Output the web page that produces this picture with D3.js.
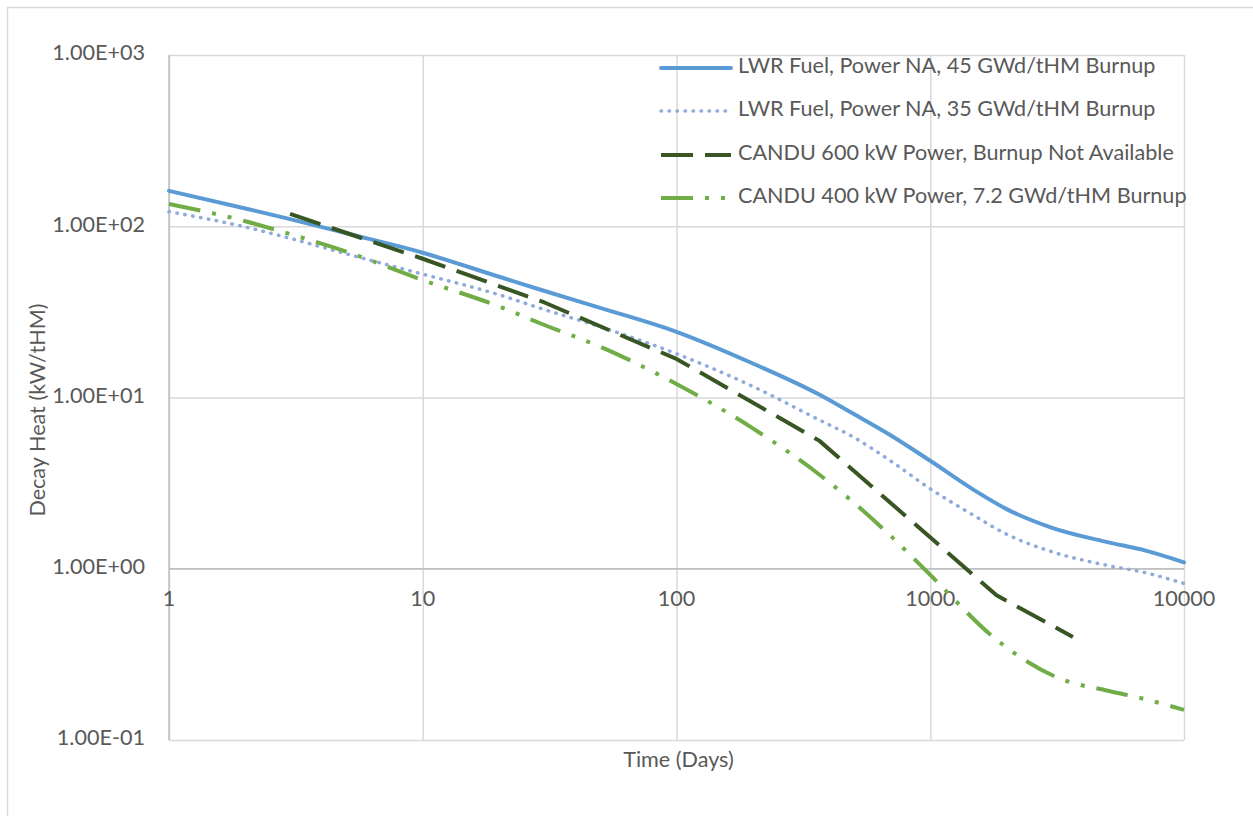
<!DOCTYPE html>
<html>
<head>
<meta charset="utf-8">
<script src="https://cdn.jsdelivr.net/npm/d3@7"></script>
<style>
  html, body { margin: 0; padding: 0; background: #fff; }
  svg { display: block; }
  text { font-family: Lato, "Open Sans", sans-serif; fill: #595959; }
</style>
</head>
<body>
<svg id="chart" width="1253" height="816"></svg>
<script>
// ---- data ----
const xTicks = [1, 10, 100, 1000, 10000];
const yTicks = [0.1, 1, 10, 100, 1000];
const yTickLabels = ["1.00E-01", "1.00E+00", "1.00E+01", "1.00E+02", "1.00E+03"];

const seriesNames = [
  "LWR Fuel, Power NA, 45 GWd/tHM Burnup",
  "LWR Fuel, Power NA, 35 GWd/tHM Burnup",
  "CANDU 600 kW Power, Burnup Not Available",
  "CANDU 400 kW Power, 7.2 GWd/tHM Burnup"
];

const lwr45Days = [1, 2, 3, 5, 10, 20, 30, 50, 100, 200, 365, 500, 700, 1000, 1500, 2000, 3000, 5000, 7000, 10000];
const lwr45Vals = [161, 127, 110, 91, 70, 50.7, 42, 33.4, 24.2, 15.8, 10.4, 8.0, 6.0, 4.27, 2.86, 2.23, 1.74, 1.43, 1.28, 1.09];

const lwr35Days = [1, 2, 3, 5, 10, 20, 30, 50, 100, 200, 365, 500, 700, 1000, 1500, 2000, 3000, 5000, 7000, 10000];
const lwr35Vals = [121.6, 99, 85, 69, 52.5, 39.8, 32.7, 25.9, 18.0, 11.6, 7.4, 5.85, 4.25, 2.93, 2.03, 1.59, 1.26, 1.045, 0.95, 0.82];

const candu600Days = [3, 10, 30, 100, 365, 1825, 3650];
const candu600Vals = [118, 64.6, 36.0, 16.8, 5.6, 0.70, 0.40];

const candu400Days = [1, 2, 3, 5, 10, 20, 30, 50, 100, 200, 365, 500, 700, 1000, 1825, 2300, 3250, 5000, 6400, 10000];
const candu400Vals = [135, 107, 90, 71, 48.5, 34, 26.6, 19.8, 12.0, 6.6, 3.55, 2.43, 1.55, 0.92, 0.385, 0.30, 0.228, 0.194, 0.179, 0.15];

// ---- layout ----
const svg = d3.select("#chart");
const plot = { left: 169, right: 1184, top: 55, bottom: 740 };

const x = d3.scaleLog().domain([1, 10000]).range([plot.left, plot.right]);
const y = d3.scaleLog().domain([0.1, 1000]).range([plot.bottom, plot.top]);

// outer chart border (only left/top visible in frame)
svg.append("rect")
  .attr("x", 7.5).attr("y", 7.5)
  .attr("width", 1400).attr("height", 1000)
  .attr("fill", "none").attr("stroke", "#d9d9d9").attr("stroke-width", 1.5);

// gridlines via axes
const gridColor = "#d9d9d9";
const gx = svg.append("g")
  .attr("transform", `translate(0,${plot.bottom})`)
  .call(d3.axisBottom(x).tickValues(xTicks).tickSize(-(plot.bottom - plot.top)).tickFormat(""));
gx.select(".domain").remove();
gx.selectAll("line").attr("stroke", gridColor).attr("stroke-width", 1.5);

const gy = svg.append("g")
  .attr("transform", `translate(${plot.left},0)`)
  .call(d3.axisLeft(y).tickValues(yTicks).tickSize(-(plot.right - plot.left)).tickFormat(""));
gy.select(".domain").remove();
gy.selectAll("line").attr("stroke", gridColor).attr("stroke-width", 1.5);

// axis lines: x axis crosses at y = 1
svg.append("line")
  .attr("x1", plot.left).attr("x2", plot.right)
  .attr("y1", y(1)).attr("y2", y(1))
  .attr("stroke", "#bfbfbf").attr("stroke-width", 1.5);
svg.append("line")
  .attr("x1", plot.left).attr("x2", plot.left)
  .attr("y1", plot.top).attr("y2", plot.bottom)
  .attr("stroke", "#bfbfbf").attr("stroke-width", 1.5);

// tick labels
const fs = 21.6;
svg.append("g").selectAll("text").data(xTicks).join("text")
  .attr("x", d => x(d)).attr("y", y(1) + 32)
  .attr("text-anchor", "middle").attr("dominant-baseline", "middle")
  .style("font-size", fs + "px")
  .text(d => String(d));

svg.append("g").selectAll("text").data(yTicks).join("text")
  .attr("x", 145).attr("y", d => y(d))
  .attr("text-anchor", "end").attr("dominant-baseline", "middle")
  .style("font-size", fs + "px")
  .text((d, i) => yTickLabels[i]);

// axis titles
svg.append("text")
  .attr("x", (plot.left + plot.right) / 2 + 2).attr("y", 762)
  .attr("text-anchor", "middle").attr("dominant-baseline", "middle")
  .style("font-size", fs + "px")
  .text("Time (Days)");

svg.append("text")
  .attr("transform", `translate(40,${410}) rotate(-90)`)
  .attr("text-anchor", "middle").attr("dominant-baseline", "middle")
  .style("font-size", fs + "px")
  .text("Decay Heat (kW/tHM)");

// series
const styles = [
  { color: "#5b9bd5", width: 4, dash: null, cap: "round", curve: d3.curveMonotoneX },
  { color: "#8faadc", width: 3.5, dash: "0.5 7.5", cap: "round", curve: d3.curveMonotoneX },
  { color: "#375623", width: 4, dash: "32 12", cap: "butt", curve: d3.curveLinear },
  { color: "#70ad47", width: 4, dash: "32 12 4 12 4 12", cap: "butt", curve: d3.curveMonotoneX }
];
const series = [
  lwr45Days.map((d, i) => [d, lwr45Vals[i]]),
  lwr35Days.map((d, i) => [d, lwr35Vals[i]]),
  candu600Days.map((d, i) => [d, candu600Vals[i]]),
  candu400Days.map((d, i) => [d, candu400Vals[i]])
];

[0, 1, 2, 3].forEach(i => {
  const s = styles[i];
  const line = d3.line().x(d => x(d[0])).y(d => y(d[1])).curve(s.curve);
  svg.append("path")
    .attr("d", line(series[i]))
    .attr("fill", "none")
    .attr("stroke", s.color)
    .attr("stroke-width", s.width)
    .attr("stroke-linecap", s.cap)
    .attr("stroke-linejoin", "round")
    .attr("stroke-dasharray", s.dash);
});

// legend
const legendY = [68, 111, 155, 198];
const lg = svg.append("g");
seriesNames.forEach((name, i) => {
  const s = styles[i];
  lg.append("line")
    .attr("x1", 661).attr("x2", 731)
    .attr("y1", legendY[i]).attr("y2", legendY[i])
    .attr("stroke", s.color)
    .attr("stroke-width", s.width)
    .attr("stroke-linecap", s.cap)
    .attr("stroke-dasharray", s.dash);
  lg.append("text")
    .attr("x", 738).attr("y", legendY[i])
    .attr("dominant-baseline", "middle")
    .style("font-size", fs + "px")
    .text(name);
});
</script>
</body>
</html>
